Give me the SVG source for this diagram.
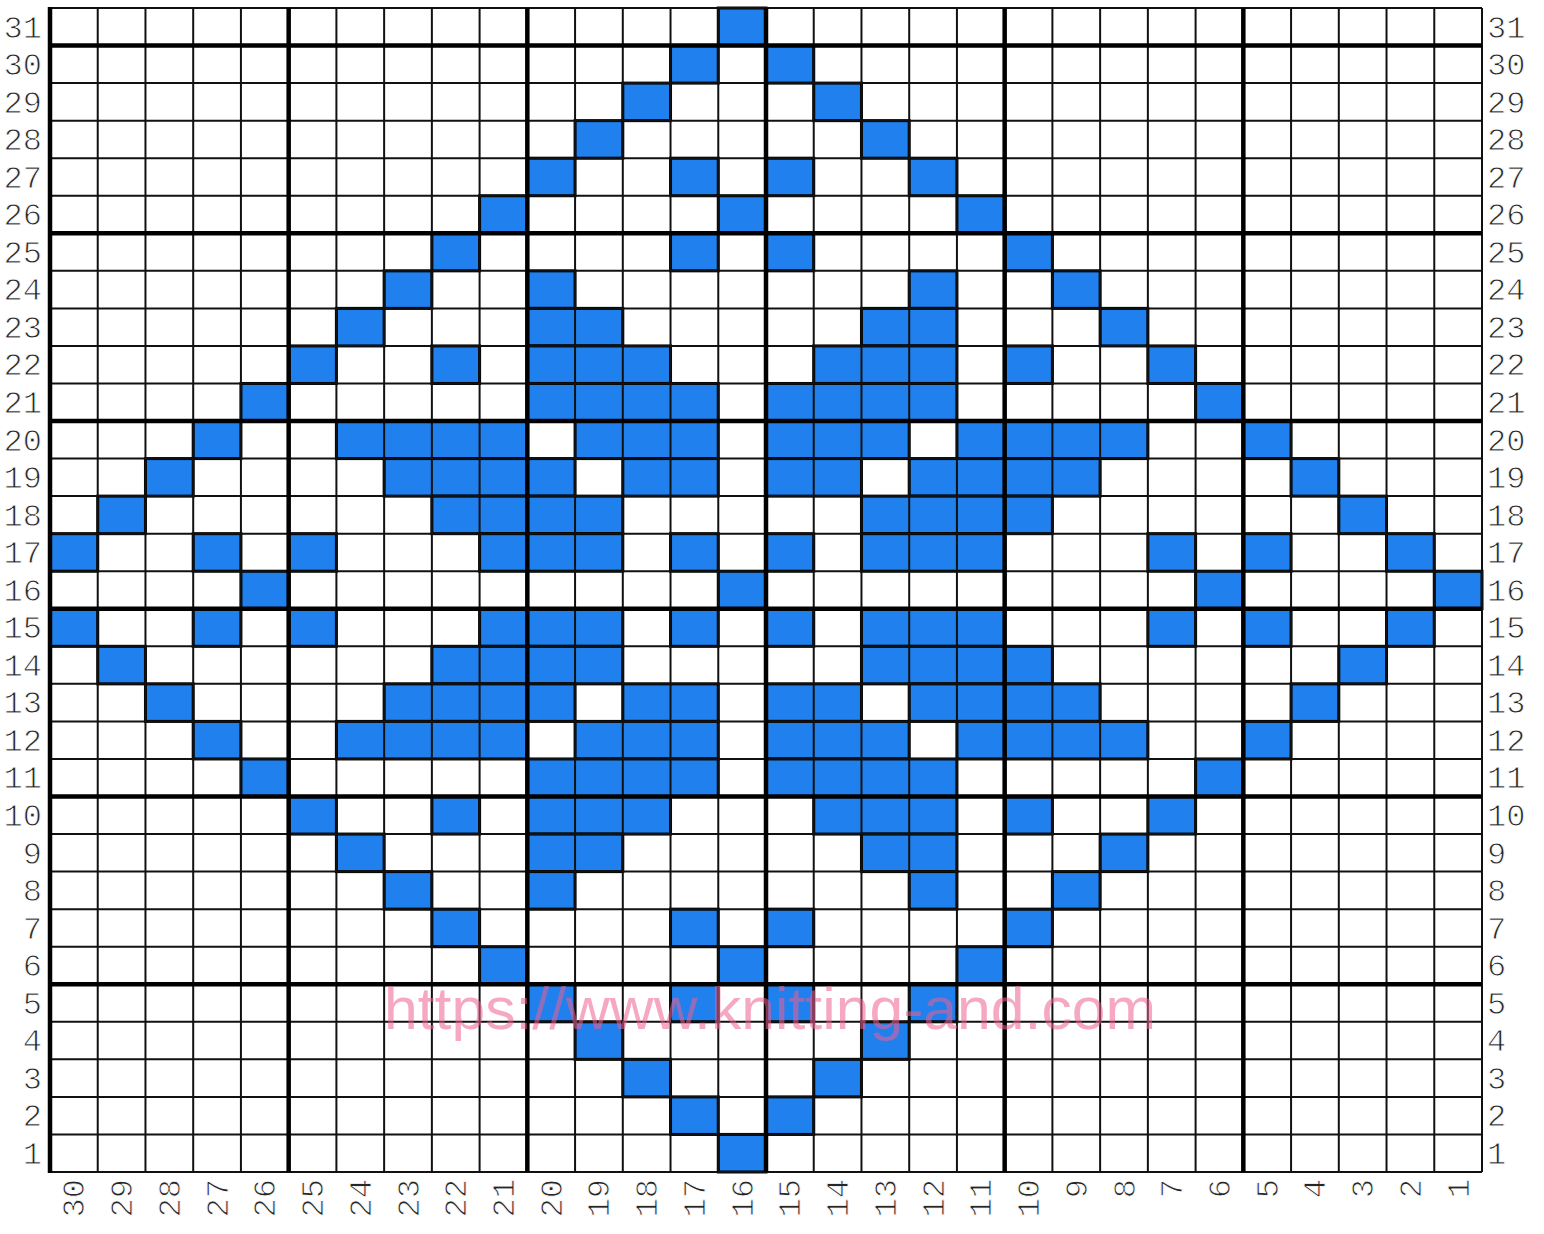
<svg xmlns="http://www.w3.org/2000/svg" xmlns:xlink="http://www.w3.org/1999/xlink" width="1544" height="1234" viewBox="0 0 1544 1234">
<style>
.c{fill:#1f80ee;stroke:#000;stroke-width:3}
.thin{stroke:#111;stroke-width:2;fill:none}
.thick{stroke:#000;stroke-width:4.5;fill:none}
.lab{font-family:"Liberation Mono","DejaVu Sans Mono",monospace;font-size:32px;fill:#262626;stroke:#fff;stroke-width:0.9px}
.l{text-anchor:end}
.b{text-anchor:end}
.wm{font-family:"Liberation Sans",Arial,sans-serif;font-size:59px;fill:#f06090;opacity:0.55}
</style>
<defs>
<g id="P31"><rect class="c" x="718.27" y="0" width="47.73" height="37.55"/></g>
<g id="P30"><rect class="c" x="670.53" y="0" width="47.73" height="37.55"/><rect class="c" x="766" y="0" width="47.73" height="37.55"/></g>
<g id="P29"><rect class="c" x="622.8" y="0" width="47.73" height="37.55"/><rect class="c" x="813.73" y="0" width="47.73" height="37.55"/></g>
<g id="P28"><rect class="c" x="575.07" y="0" width="47.73" height="37.55"/><rect class="c" x="861.47" y="0" width="47.73" height="37.55"/></g>
<g id="P27"><rect class="c" x="527.33" y="0" width="47.73" height="37.55"/><rect class="c" x="670.53" y="0" width="47.73" height="37.55"/><rect class="c" x="766" y="0" width="47.73" height="37.55"/><rect class="c" x="909.2" y="0" width="47.73" height="37.55"/></g>
<g id="P26"><rect class="c" x="479.6" y="0" width="47.73" height="37.55"/><rect class="c" x="718.27" y="0" width="47.73" height="37.55"/><rect class="c" x="956.93" y="0" width="47.73" height="37.55"/></g>
<g id="P25"><rect class="c" x="431.87" y="0" width="47.73" height="37.55"/><rect class="c" x="670.53" y="0" width="47.73" height="37.55"/><rect class="c" x="766" y="0" width="47.73" height="37.55"/><rect class="c" x="1004.67" y="0" width="47.73" height="37.55"/></g>
<g id="P24"><rect class="c" x="384.13" y="0" width="47.73" height="37.55"/><rect class="c" x="527.33" y="0" width="47.73" height="37.55"/><rect class="c" x="909.2" y="0" width="47.73" height="37.55"/><rect class="c" x="1052.4" y="0" width="47.73" height="37.55"/></g>
<g id="P23"><rect class="c" x="336.4" y="0" width="47.73" height="37.55"/><rect class="c" x="527.33" y="0" width="95.47" height="37.55"/><rect class="c" x="861.47" y="0" width="95.47" height="37.55"/><rect class="c" x="1100.13" y="0" width="47.73" height="37.55"/></g>
<g id="P22"><rect class="c" x="288.67" y="0" width="47.73" height="37.55"/><rect class="c" x="431.87" y="0" width="47.73" height="37.55"/><rect class="c" x="527.33" y="0" width="143.2" height="37.55"/><rect class="c" x="813.73" y="0" width="143.2" height="37.55"/><rect class="c" x="1004.67" y="0" width="47.73" height="37.55"/><rect class="c" x="1147.87" y="0" width="47.73" height="37.55"/></g>
<g id="P21"><rect class="c" x="240.93" y="0" width="47.73" height="37.55"/><rect class="c" x="527.33" y="0" width="190.93" height="37.55"/><rect class="c" x="766" y="0" width="190.93" height="37.55"/><rect class="c" x="1195.6" y="0" width="47.73" height="37.55"/></g>
<g id="P20"><rect class="c" x="193.2" y="0" width="47.73" height="37.55"/><rect class="c" x="336.4" y="0" width="190.93" height="37.55"/><rect class="c" x="575.07" y="0" width="143.2" height="37.55"/><rect class="c" x="766" y="0" width="143.2" height="37.55"/><rect class="c" x="956.93" y="0" width="190.93" height="37.55"/><rect class="c" x="1243.33" y="0" width="47.73" height="37.55"/></g>
<g id="P19"><rect class="c" x="145.47" y="0" width="47.73" height="37.55"/><rect class="c" x="384.13" y="0" width="190.93" height="37.55"/><rect class="c" x="622.8" y="0" width="95.47" height="37.55"/><rect class="c" x="766" y="0" width="95.47" height="37.55"/><rect class="c" x="909.2" y="0" width="190.93" height="37.55"/><rect class="c" x="1291.07" y="0" width="47.73" height="37.55"/></g>
<g id="P18"><rect class="c" x="97.73" y="0" width="47.73" height="37.55"/><rect class="c" x="431.87" y="0" width="190.93" height="37.55"/><rect class="c" x="861.47" y="0" width="190.93" height="37.55"/><rect class="c" x="1338.8" y="0" width="47.73" height="37.55"/></g>
<g id="P17"><rect class="c" x="50" y="0" width="47.73" height="37.55"/><rect class="c" x="193.2" y="0" width="47.73" height="37.55"/><rect class="c" x="288.67" y="0" width="47.73" height="37.55"/><rect class="c" x="479.6" y="0" width="143.2" height="37.55"/><rect class="c" x="670.53" y="0" width="47.73" height="37.55"/><rect class="c" x="766" y="0" width="47.73" height="37.55"/><rect class="c" x="861.47" y="0" width="143.2" height="37.55"/><rect class="c" x="1147.87" y="0" width="47.73" height="37.55"/><rect class="c" x="1243.33" y="0" width="47.73" height="37.55"/><rect class="c" x="1386.53" y="0" width="47.73" height="37.55"/></g>
<g id="P16"><rect class="c" x="240.93" y="0" width="47.73" height="37.55"/><rect class="c" x="718.27" y="0" width="47.73" height="37.55"/><rect class="c" x="1195.6" y="0" width="47.73" height="37.55"/><rect class="c" x="1434.27" y="0" width="47.73" height="37.55"/></g>
</defs>
<rect x="0" y="0" width="1544" height="1234" fill="#fff"/>
<g id="cells">
<use xlink:href="#P31" href="#P31" y="8"/>
<use xlink:href="#P30" href="#P30" y="45.55"/>
<use xlink:href="#P29" href="#P29" y="83.1"/>
<use xlink:href="#P28" href="#P28" y="120.64"/>
<use xlink:href="#P27" href="#P27" y="158.19"/>
<use xlink:href="#P26" href="#P26" y="195.74"/>
<use xlink:href="#P25" href="#P25" y="233.29"/>
<use xlink:href="#P24" href="#P24" y="270.84"/>
<use xlink:href="#P23" href="#P23" y="308.38"/>
<use xlink:href="#P22" href="#P22" y="345.93"/>
<use xlink:href="#P21" href="#P21" y="383.48"/>
<use xlink:href="#P20" href="#P20" y="421.03"/>
<use xlink:href="#P19" href="#P19" y="458.58"/>
<use xlink:href="#P18" href="#P18" y="496.12"/>
<use xlink:href="#P17" href="#P17" y="533.67"/>
<use xlink:href="#P16" href="#P16" y="571.22"/>
<use xlink:href="#P17" href="#P17" y="608.77"/>
<use xlink:href="#P18" href="#P18" y="646.32"/>
<use xlink:href="#P19" href="#P19" y="683.86"/>
<use xlink:href="#P20" href="#P20" y="721.41"/>
<use xlink:href="#P21" href="#P21" y="758.96"/>
<use xlink:href="#P22" href="#P22" y="796.51"/>
<use xlink:href="#P23" href="#P23" y="834.06"/>
<use xlink:href="#P24" href="#P24" y="871.6"/>
<use xlink:href="#P25" href="#P25" y="909.15"/>
<use xlink:href="#P26" href="#P26" y="946.7"/>
<use xlink:href="#P27" href="#P27" y="984.25"/>
<use xlink:href="#P28" href="#P28" y="1021.8"/>
<use xlink:href="#P29" href="#P29" y="1059.34"/>
<use xlink:href="#P30" href="#P30" y="1096.89"/>
<use xlink:href="#P31" href="#P31" y="1134.44"/>
</g>
<g id="grid">
<path class="thin" d="M97.73 8V1172M145.47 8V1172M193.2 8V1172M240.93 8V1172M336.4 8V1172M384.13 8V1172M431.87 8V1172M479.6 8V1172M575.07 8V1172M622.8 8V1172M670.53 8V1172M718.27 8V1172M813.73 8V1172M861.47 8V1172M909.2 8V1172M956.93 8V1172M1052.4 8V1172M1100.13 8V1172M1147.87 8V1172M1195.6 8V1172M1291.07 8V1172M1338.8 8V1172M1386.53 8V1172M1434.27 8V1172M1482 8V1172"/>
<path class="thin" d="M50 8H1482M50 83.1H1482M50 120.64H1482M50 158.19H1482M50 195.74H1482M50 270.84H1482M50 308.38H1482M50 345.93H1482M50 383.48H1482M50 458.58H1482M50 496.12H1482M50 533.67H1482M50 571.22H1482M50 646.32H1482M50 683.86H1482M50 721.41H1482M50 758.96H1482M50 834.06H1482M50 871.6H1482M50 909.15H1482M50 946.7H1482M50 1021.8H1482M50 1059.34H1482M50 1096.89H1482M50 1134.44H1482M50 1172H1482"/>
<path class="thick" d="M50 45.55H1482M50 233.29H1482M50 421.03H1482M50 608.77H1482M50 796.51H1482M50 984.25H1482"/>
<path class="thick" d="M50 7V1173M288.67 8V1172M527.33 8V1172M766 8V1172M1004.67 8V1172M1243.33 8V1172"/>
</g>
<g id="row-labels-left" class="lab l">
<text x="42" y="37.5">31</text><text x="42" y="75.05">30</text><text x="42" y="112.6">29</text><text x="42" y="150.14">28</text><text x="42" y="187.69">27</text><text x="42" y="225.24">26</text><text x="42" y="262.79">25</text><text x="42" y="300.34">24</text><text x="42" y="337.88">23</text><text x="42" y="375.43">22</text><text x="42" y="412.98">21</text><text x="42" y="450.53">20</text><text x="42" y="488.08">19</text><text x="42" y="525.62">18</text><text x="42" y="563.17">17</text><text x="42" y="600.72">16</text><text x="42" y="638.27">15</text><text x="42" y="675.82">14</text><text x="42" y="713.36">13</text><text x="42" y="750.91">12</text><text x="42" y="788.46">11</text><text x="42" y="826.01">10</text><text x="42" y="863.56">9</text><text x="42" y="901.1">8</text><text x="42" y="938.65">7</text><text x="42" y="976.2">6</text><text x="42" y="1013.75">5</text><text x="42" y="1051.3">4</text><text x="42" y="1088.84">3</text><text x="42" y="1126.39">2</text><text x="42" y="1163.94">1</text>
</g>
<g id="row-labels-right" class="lab">
<text x="1487" y="37.5">31</text><text x="1487" y="75.05">30</text><text x="1487" y="112.6">29</text><text x="1487" y="150.14">28</text><text x="1487" y="187.69">27</text><text x="1487" y="225.24">26</text><text x="1487" y="262.79">25</text><text x="1487" y="300.34">24</text><text x="1487" y="337.88">23</text><text x="1487" y="375.43">22</text><text x="1487" y="412.98">21</text><text x="1487" y="450.53">20</text><text x="1487" y="488.08">19</text><text x="1487" y="525.62">18</text><text x="1487" y="563.17">17</text><text x="1487" y="600.72">16</text><text x="1487" y="638.27">15</text><text x="1487" y="675.82">14</text><text x="1487" y="713.36">13</text><text x="1487" y="750.91">12</text><text x="1487" y="788.46">11</text><text x="1487" y="826.01">10</text><text x="1487" y="863.56">9</text><text x="1487" y="901.1">8</text><text x="1487" y="938.65">7</text><text x="1487" y="976.2">6</text><text x="1487" y="1013.75">5</text><text x="1487" y="1051.3">4</text><text x="1487" y="1088.84">3</text><text x="1487" y="1126.39">2</text><text x="1487" y="1163.94">1</text>
</g>
<g id="col-labels" class="lab b">
<text transform="translate(84.4 1179) rotate(-90)">30</text>
<text transform="translate(132.1 1179) rotate(-90)">29</text>
<text transform="translate(179.8 1179) rotate(-90)">28</text>
<text transform="translate(227.6 1179) rotate(-90)">27</text>
<text transform="translate(275.3 1179) rotate(-90)">26</text>
<text transform="translate(323 1179) rotate(-90)">25</text>
<text transform="translate(370.8 1179) rotate(-90)">24</text>
<text transform="translate(418.5 1179) rotate(-90)">23</text>
<text transform="translate(466.2 1179) rotate(-90)">22</text>
<text transform="translate(514 1179) rotate(-90)">21</text>
<text transform="translate(561.7 1179) rotate(-90)">20</text>
<text transform="translate(609.4 1179) rotate(-90)">19</text>
<text transform="translate(657.2 1179) rotate(-90)">18</text>
<text transform="translate(704.9 1179) rotate(-90)">17</text>
<text transform="translate(752.6 1179) rotate(-90)">16</text>
<text transform="translate(800.4 1179) rotate(-90)">15</text>
<text transform="translate(848.1 1179) rotate(-90)">14</text>
<text transform="translate(895.8 1179) rotate(-90)">13</text>
<text transform="translate(943.6 1179) rotate(-90)">12</text>
<text transform="translate(991.3 1179) rotate(-90)">11</text>
<text transform="translate(1039 1179) rotate(-90)">10</text>
<text transform="translate(1086.8 1179) rotate(-90)">9</text>
<text transform="translate(1134.5 1179) rotate(-90)">8</text>
<text transform="translate(1182.2 1179) rotate(-90)">7</text>
<text transform="translate(1230 1179) rotate(-90)">6</text>
<text transform="translate(1277.7 1179) rotate(-90)">5</text>
<text transform="translate(1325.4 1179) rotate(-90)">4</text>
<text transform="translate(1373.2 1179) rotate(-90)">3</text>
<text transform="translate(1420.9 1179) rotate(-90)">2</text>
<text transform="translate(1468.6 1179) rotate(-90)">1</text>
</g>
<text id="watermark" class="wm" x="384" y="1029" textLength="772" lengthAdjust="spacingAndGlyphs">https://www.knitting-and.com</text>
</svg>
